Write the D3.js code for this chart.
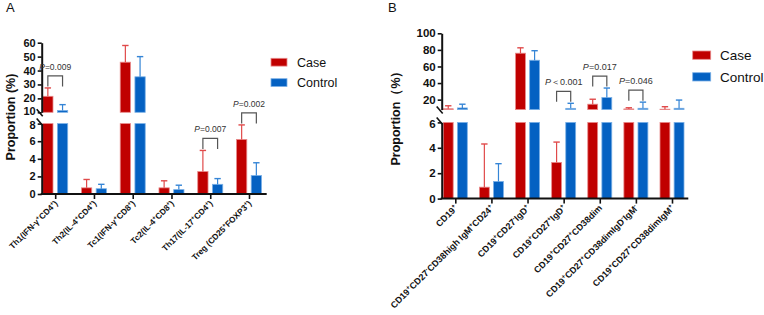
<!DOCTYPE html>
<html>
<head>
<meta charset="utf-8">
<script src="https://cdn.jsdelivr.net/npm/d3@7"></script>
<style>
  body { margin: 0; background: #fff; }
  text { font-family: Arial, "Liberation Sans", sans-serif; }
</style>
</head>
<body>
<svg id="chart" width="764" height="315"></svg>
<script>
// ---- panel A data (T cell subsets) ----
var groupsA = ["Th1(IFN-γ^+CD4^+)", "Th2(IL-4^+CD4^+)", "Tc1(IFN-γ^+CD8^+)",
               "Tc2(IL-4^+CD8^+)", "Th17(IL-17^+CD4^+)", "Treg (CD25^+FOXP3^+)"];
var caseA      = [21.5, 0.7, 46, 0.7, 2.55, 6.2];
var caseSdA    = [6, 0.95, 12, 0.8, 2.4, 1.65];
var controlA   = [11.3, 0.6, 35.5, 0.5, 1.1, 2.1];
var controlSdA = [4.2, 0.5, 14.5, 0.5, 0.65, 1.45];
var upperTicksA = [10, 20, 30, 40, 50, 60];
var lowerTicksA = [0, 2, 4, 6, 8];
var sigIndexA = [0, 4, 5];
var sigTextA  = ["=0.009", "=0.007", "=0.002"];

// ---- panel B data (B cell subsets) ----
var groupsB = ["CD19^+", "CD19^+CD27^-CD38high IgM^+CD24^+", "CD19^+CD27^-IgD^+",
               "CD19^+CD27^+IgD^+", "CD19^+CD27^+CD38dim", "CD19^+CD27^+CD38dimIgD^-IgM^-",
               "CD19^+CD27^+CD38dimIgM^+"];
var caseB      = [9, 0.9, 76, 2.85, 14.5, 8.8, 8.5];
var caseSdB    = [3.6, 3.4, 6.5, 1.6, 6, 1.4, 3];
var controlB   = [10, 1.35, 67.5, 9.5, 22.5, 9.6, 9.6];
var controlSdB = [4.5, 1.4, 11.5, 6.1, 11.5, 7.4, 9.9];
var upperTicksB = [20, 40, 60, 80, 100];
var lowerTicksB = [0, 2, 4, 6];
var sigIndexB = [3, 4, 5];
var sigTextB  = ["＜0.001", "=0.017", "=0.046"];

var seriesNames = ["Case", "Control"];
var fills   = {Case: "#c00000", Control: "#0461c2"};
var edges   = {Case: "#e98a8a", Control: "#7ab0e6"};
var errCols = {Case: "#e04a4a", Control: "#3585d6"};

var svg = d3.select("#chart");

// write a label with ^+ / ^- superscripts as tspans
function richText(sel, label, size) {
  var parts = label.split(/(\^[+\-])/);
  var shift = 0;
  parts.forEach(function(p) {
    if (!p) return;
    if (p[0] == "^") {
      sel.append("tspan").attr("font-size", size * 0.68).attr("dy", -size * 0.38 - shift)
        .text(p[1]);
      shift = -size * 0.38;
    } else {
      sel.append("tspan").attr("dy", -shift).text(p);
      shift = 0;
    }
  });
}

function drawPanel(cfg) {
  var g = svg.append("g");
  var upper = d3.scaleLinear().domain(cfg.upperDomain).range(cfg.upperRange);
  var lower = d3.scaleLinear().domain(cfg.lowerDomain).range(cfg.lowerRange);
  var segs = [lower, upper];
  var x = d3.scalePoint().domain(cfg.groups).range(cfg.xRange);
  var xs = d3.scaleBand().domain(seriesNames).range(cfg.band).paddingInner(0.3);

  function yOf(v) {
    return v <= cfg.lowerDomain[1] ? lower(v) : upper(Math.max(v, cfg.upperDomain[0]));
  }

  var rows = [];
  cfg.groups.forEach(function(grp, i) {
    rows.push({grp: grp, s: "Case", v: cfg.caseV[i], sd: cfg.caseSd[i]});
    rows.push({grp: grp, s: "Control", v: cfg.ctrlV[i], sd: cfg.ctrlSd[i]});
  });

  // bars, split over the two axis segments
  rows.forEach(function(r) {
    var cx = x(r.grp) + xs(r.s);
    segs.forEach(function(sc) {
      var d = sc.domain();
      var a = Math.max(0, d[0]), b = Math.min(r.v, d[1]);
      if (b > a) {
        g.append("rect")
          .attr("x", cx).attr("width", xs.bandwidth())
          .attr("y", sc(b)).attr("height", sc(a) - sc(b))
          .attr("fill", fills[r.s]).attr("stroke", edges[r.s]).attr("stroke-width", 0.8);
      }
    });
    // error bar (upper half only)
    var mx = cx + xs.bandwidth() / 2;
    var top = r.v + r.sd;
    segs.forEach(function(sc) {
      var d = sc.domain();
      var a = Math.max(r.v, d[0]), b = Math.min(top, d[1]);
      if (b > a) {
        g.append("line").attr("x1", mx).attr("x2", mx).attr("y1", sc(a)).attr("y2", sc(b))
          .attr("stroke", errCols[r.s]).attr("stroke-width", 1.2);
      }
    });
    g.append("line").attr("x1", mx - 3.2).attr("x2", mx + 3.2)
      .attr("y1", yOf(top)).attr("y2", yOf(top))
      .attr("stroke", errCols[r.s]).attr("stroke-width", 1.4);
  });

  // y axes (two segments)
  var fmt = d3.format("d");
  var axU = g.append("g").attr("transform", "translate(" + cfg.axisX + ",0)")
    .call(d3.axisLeft(upper).tickValues(cfg.upperTicks).tickFormat(fmt)
      .tickSize(4).tickSizeOuter(0).tickPadding(2));
  var axL = g.append("g").attr("transform", "translate(" + cfg.axisX + ",0)")
    .call(d3.axisLeft(lower).tickValues(cfg.lowerTicks).tickFormat(fmt)
      .tickSize(4).tickSizeOuter(0).tickPadding(2));
  [axU, axL].forEach(function(ax) {
    ax.select(".domain").attr("stroke", "#111").attr("stroke-width", 2);
    ax.selectAll(".tick line").attr("stroke", "#111").attr("stroke-width", 1.6);
    ax.selectAll(".tick text").attr("font-size", cfg.tickFont).attr("font-weight", "bold")
      .attr("fill", "#111").attr("font-family", "Arial, 'Liberation Sans', sans-serif");
  });
  // labels either side of the break sit close, nudge them apart a little
  axU.selectAll(".tick text").filter(function(d) { return d === cfg.upperDomain[0]; })
    .attr("y", -1);
  axL.selectAll(".tick text").filter(function(d) { return d === cfg.lowerDomain[1]; })
    .attr("y", 1);

  // break slashes
  [upper(cfg.upperDomain[0]) + 1, lower(cfg.lowerDomain[1]) - 1].forEach(function(yy) {
    g.append("line").attr("x1", cfg.axisX - 5).attr("x2", cfg.axisX + 1)
      .attr("y1", yy - 4).attr("y2", yy + 3)
      .attr("stroke", "#111").attr("stroke-width", 1.6);
  });

  // x axis
  var y0 = lower(0);
  g.append("line").attr("x1", cfg.axisX - 1).attr("x2", cfg.axisEnd)
    .attr("y1", y0).attr("y2", y0).attr("stroke", "#111").attr("stroke-width", 2);
  var axX = g.append("g").attr("transform", "translate(0," + y0 + ")")
    .call(d3.axisBottom(x).tickSize(5).tickFormat(""));
  axX.select(".domain").remove();
  axX.selectAll(".tick line").attr("stroke", "#111").attr("stroke-width", 1.6);

  cfg.groups.forEach(function(grp) {
    var t = g.append("text")
      .attr("transform", "translate(" + (x(grp) + cfg.labelDx) + "," + (y0 + cfg.labelDy) + ") rotate(-45)")
      .attr("text-anchor", "end").attr("font-size", cfg.labelFont).attr("font-weight", "bold")
      .attr("fill", "#111");
    richText(t, grp, cfg.labelFont);
  });

  // y title
  g.append("text")
    .attr("transform", "translate(" + cfg.titleX + "," + cfg.titleY + ") rotate(-90)")
    .attr("text-anchor", "middle").attr("font-size", cfg.titleFont).attr("font-weight", "bold")
    .attr("fill", "#111").text(cfg.title);

  // significance brackets
  cfg.sigIndex.forEach(function(i, k) {
    var grp = cfg.groups[i];
    var xa = x(grp) + xs("Case") + xs.bandwidth() / 2;
    var xb = x(grp) + xs("Control") + xs.bandwidth() / 2;
    var yTop = Math.min(yOf(cfg.caseV[i] + cfg.caseSd[i]), yOf(cfg.ctrlV[i] + cfg.ctrlSd[i]));
    var legEnd = yTop - 1.5, barY = legEnd - 10.5;
    g.append("path")
      .attr("d", "M" + xa + "," + legEnd + "V" + barY + "H" + xb + "V" + legEnd)
      .attr("fill", "none").attr("stroke", "#555").attr("stroke-width", 1.2);
    var t = g.append("text").attr("x", (xa + xb) / 2).attr("y", barY - 6)
      .attr("text-anchor", "middle").attr("font-size", cfg.pFont).attr("fill", "#333");
    t.append("tspan").attr("font-style", "italic").text("P");
    t.append("tspan").text(cfg.sigText[k]);
  });

  // legend
  seriesNames.forEach(function(s, i) {
    var ly = cfg.legend.y + i * cfg.legend.gap;
    g.append("rect").attr("x", cfg.legend.x).attr("y", ly)
      .attr("width", cfg.legend.w).attr("height", cfg.legend.h)
      .attr("fill", fills[s]).attr("stroke", edges[s]).attr("stroke-width", 0.8);
    g.append("text").attr("x", cfg.legend.tx).attr("y", ly + cfg.legend.h / 2)
      .attr("dy", "0.36em").attr("font-size", cfg.legend.font).attr("fill", "#111").text(s);
  });

  // panel tag
  g.append("text").attr("x", cfg.tagX).attr("y", cfg.tagY)
    .attr("font-family", "'Liberation Serif', 'Times New Roman', serif")
    .attr("font-size", 13).attr("fill", "#111").text(cfg.tag);
}

drawPanel({
  groups: groupsA, caseV: caseA, caseSd: caseSdA, ctrlV: controlA, ctrlSd: controlSdA,
  upperDomain: [10, 60], upperRange: [112.3, 42.7], upperTicks: upperTicksA,
  lowerDomain: [0, 8], lowerRange: [194, 123.6], lowerTicks: lowerTicksA,
  axisX: 41.7, axisEnd: 266.7, xRange: [55.2, 249], band: [-12.5, 12.5],
  tickFont: 11, labelFont: 8.3, labelDx: 3, labelDy: 10,
  title: "Proportion (%)", titleX: 15, titleY: 117, titleFont: 12.5,
  sigIndex: sigIndexA, sigText: sigTextA, pFont: 8.5,
  legend: {x: 271, y: 58.3, w: 16, h: 7.8, gap: 20.4, tx: 297, font: 12.5},
  tag: "A", tagX: 6, tagY: 12
});

drawPanel({
  groups: groupsB, caseV: caseB, caseSd: caseSdB, ctrlV: controlB, ctrlSd: controlSdB,
  upperDomain: [8, 100], upperRange: [109.6, 33.3], upperTicks: upperTicksB,
  lowerDomain: [0, 6], lowerRange: [198.6, 122.4], lowerTicks: lowerTicksB,
  axisX: 441.7, axisEnd: 688.3, xRange: [455.3, 672], band: [-12, 12],
  tickFont: 11.5, labelFont: 9, labelDx: 3, labelDy: 10,
  title: "Proportion（%）", titleX: 400, titleY: 115, titleFont: 12.5,
  sigIndex: sigIndexB, sigText: sigTextB, pFont: 9,
  legend: {x: 692.7, y: 51, w: 18, h: 8.3, gap: 21.7, tx: 720, font: 13.5},
  tag: "B", tagX: 388, tagY: 12
});
</script>
</body>
</html>
